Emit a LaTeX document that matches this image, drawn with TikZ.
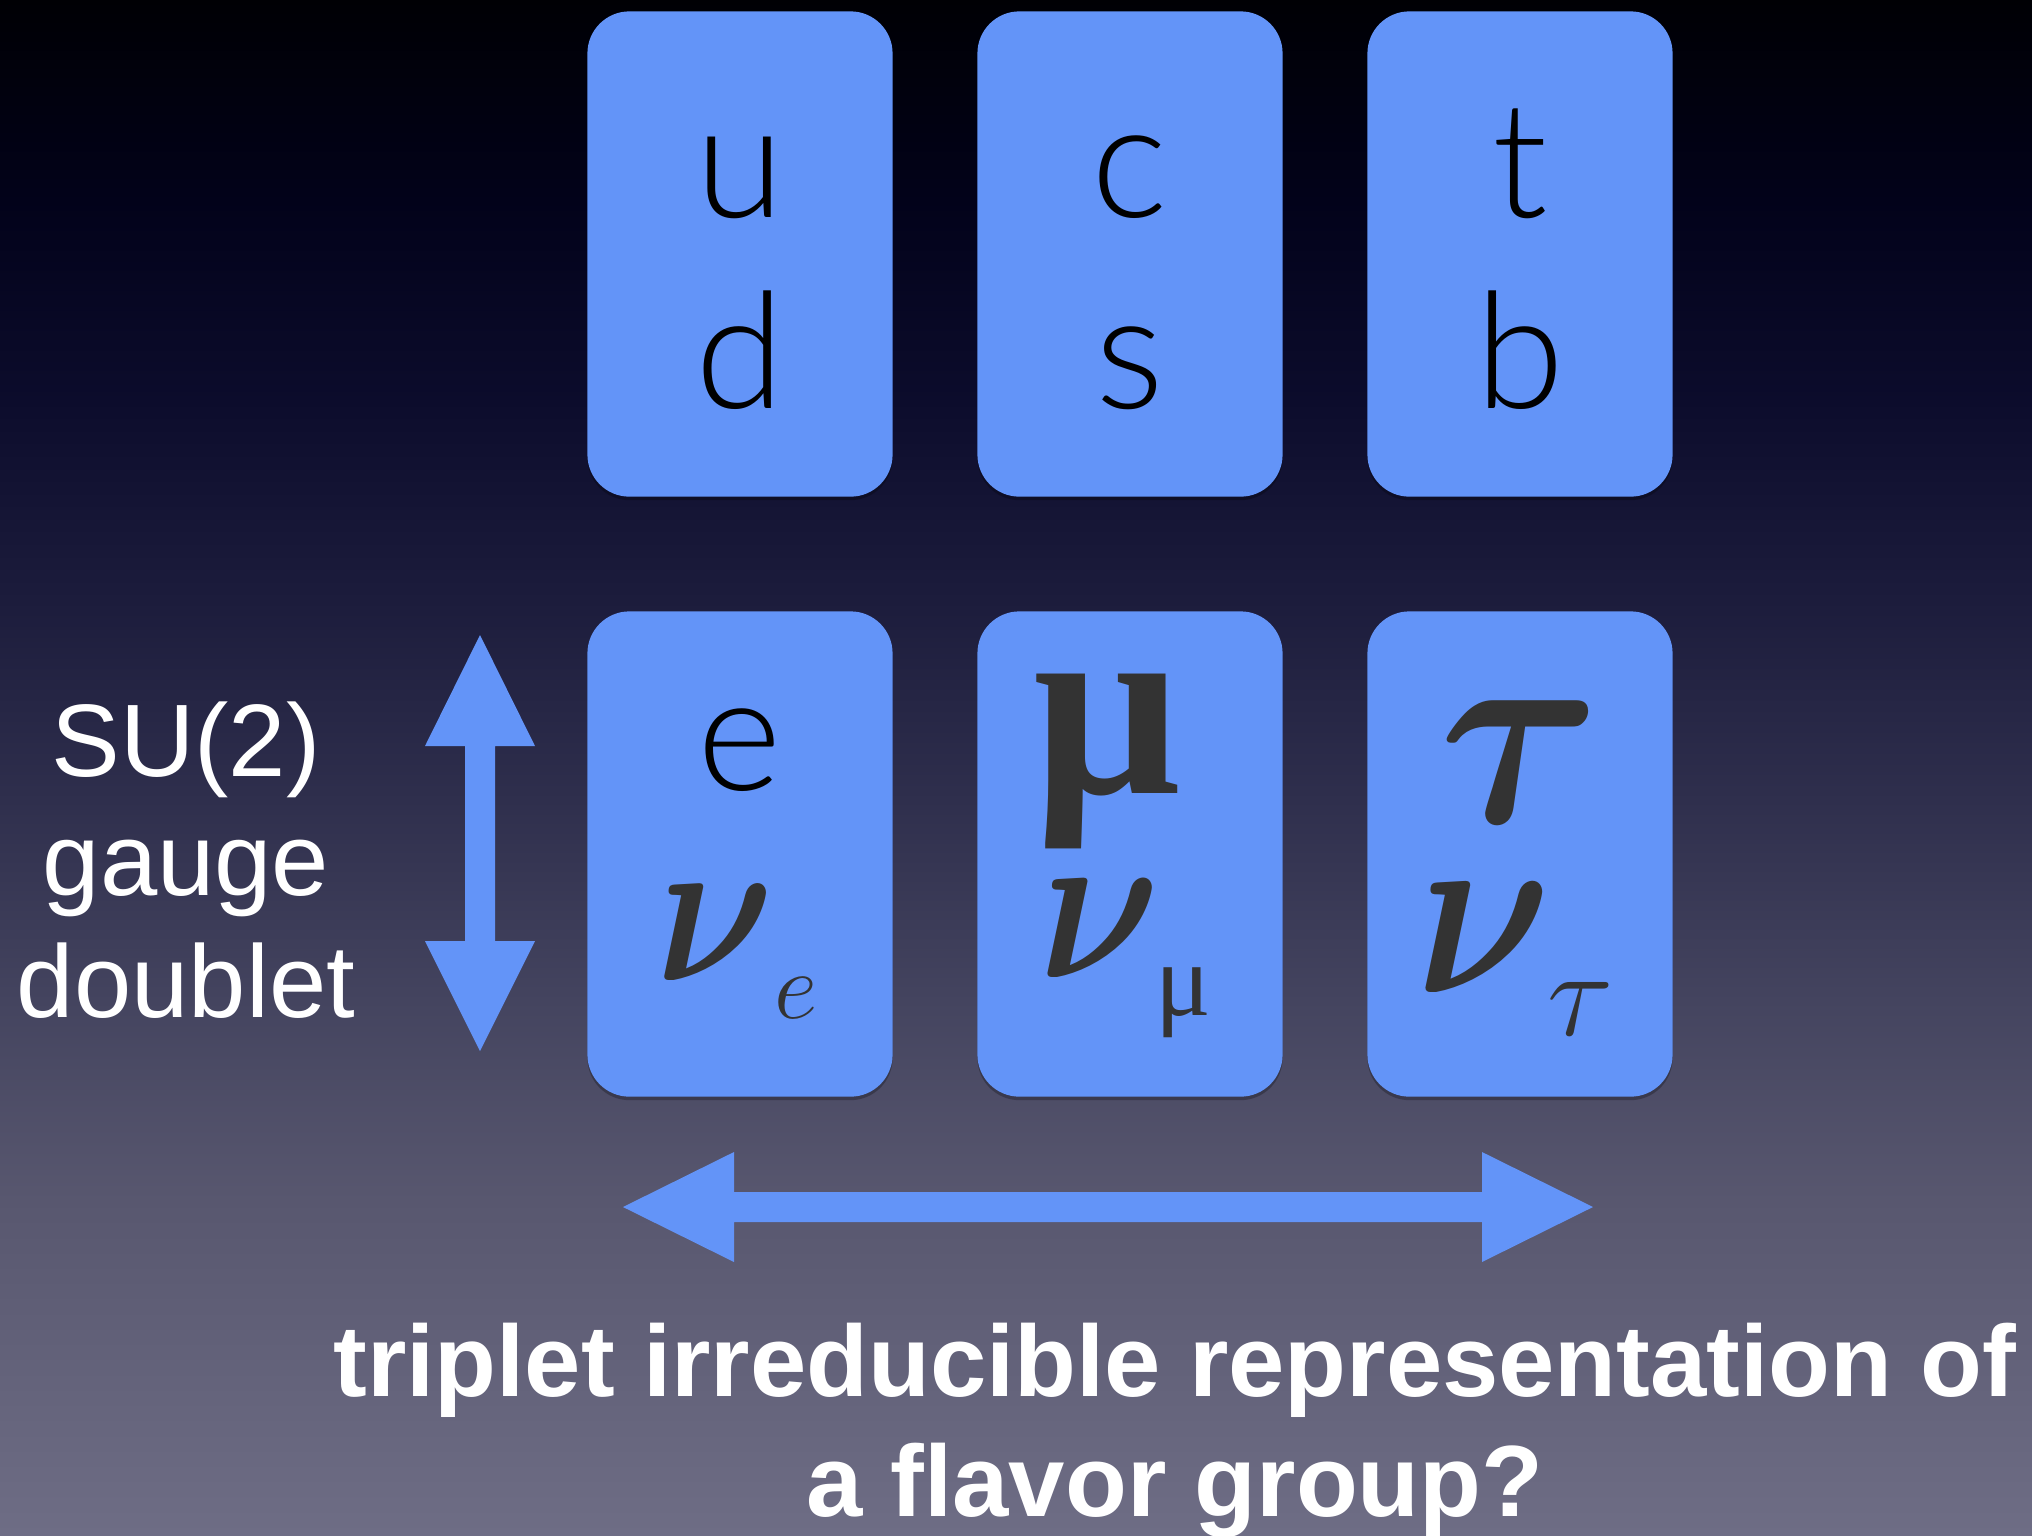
\RequirePackage{fix-cm}
\documentclass[tikz,border=0pt]{standalone}
\usepackage{bm}
\usepackage{fontspec}
\setmainfont{Liberation Sans}
\newfontfamily\grk{Liberation Serif}
\newfontfamily\lightsans{Lato Light}
\usetikzlibrary{shadows}
\definecolor{boxblue}{HTML}{6394F8}
\definecolor{glyph}{HTML}{333333}
\definecolor{bgA}{HTML}{000004}
\definecolor{bgB}{HTML}{02021A}
\definecolor{bgC}{HTML}{0C0C2C}
\definecolor{bgD}{HTML}{1C1C3C}
\definecolor{bgE}{HTML}{2F2F4D}
\definecolor{bgF}{HTML}{44445F}
\definecolor{bgG}{HTML}{58576F}
\definecolor{bgH}{HTML}{6E6D85}
\begin{document}
\begin{tikzpicture}[x=0.01cm,y=-0.01cm,
  card/.style={fill=boxblue, rounded corners=4.2mm, minimum width=3.05cm,
    minimum height=4.85cm, inner sep=0pt, draw=none,
    drop shadow={shadow xshift=0pt, shadow yshift=-1pt, opacity=0.25, fill=black}},
  quark/.style={anchor=base, inner sep=0pt, text=black, font=\lightsans\fontsize{46}{46}\selectfont},
  greek/.style={anchor=base, inner sep=0pt, text=glyph},
  side/.style={anchor=base, inner sep=0pt, text=white, font=\fontsize{29.3}{30}\selectfont},
  caption/.style={anchor=base, inner sep=0pt, text=white, font=\bfseries\fontsize{28.8}{29}\selectfont},
  arrowfill/.style={fill=boxblue}]
\useasboundingbox (0,0) rectangle (2032,1535);
% background gradient
\shade[top color=bgA, bottom color=bgB] (0,0) rectangle (2032,201);
\shade[top color=bgB, bottom color=bgC] (0,200) rectangle (2032,401);
\shade[top color=bgC, bottom color=bgD] (0,400) rectangle (2032,601);
\shade[top color=bgD, bottom color=bgE] (0,600) rectangle (2032,801);
\shade[top color=bgE, bottom color=bgF] (0,800) rectangle (2032,1001);
\shade[top color=bgF, bottom color=bgG] (0,1000) rectangle (2032,1201);
\shade[top color=bgG, bottom color=bgH] (0,1200) rectangle (2032,1535);
% cards
\node[card] (c1) at (740,254) {};
\node[card] (c2) at (1130,254) {};
\node[card] (c3) at (1520,254) {};
\node[card] (l1) at (740,854) {};
\node[card] (l2) at (1130,854) {};
\node[card] (l3) at (1520,854) {};
% quark letters
\node[quark] (u) at (740,217) {u};
\node[quark] (d) at (740,408) {d};
\node[quark] (c) at (1130,217) {c};
\node[quark] (s) at (1130,408) {s};
\node[quark] (t) at (1520,217) {t};
\node[quark] (b) at (1520,408) {b};
% leptons
\node[quark] (e) at (740,790) {e};
\node[greek, font=\fontsize{61}{61}\selectfont] (nue) at (715,980) {\scalebox{0.85}[1]{$\bm{\nu}$}};
\node[greek, font=\fontsize{27}{27}\selectfont] (nuesub) at (796,1018) {$e$};
\node[greek, font=\grk\bfseries\fontsize{74}{74}\selectfont] (mu) at (1107,793) {μ};
\node[greek, font=\fontsize{62.6}{63}\selectfont] (numu) at (1100,977) {\scalebox{0.85}[1]{$\bm{\nu}$}};
\node[greek, font=\grk\fontsize{29.6}{30}\selectfont] (numusub) at (1183,1015) {μ};
\node[greek, font=\fontsize{78}{78}\selectfont] (tau) at (1520,822) {\scalebox{0.9}[1]{$\bm{\tau}$}};
\node[greek, font=\fontsize{70}{70}\selectfont] (nutau) at (1484,992) {\scalebox{0.85}[1]{$\bm{\nu}$}};
\node[greek, font=\fontsize{35}{35}\selectfont] (nutausub) at (1581,1035) {$\tau$};
% vertical double arrow
\coordinate (vtop) at (480,635);
\coordinate (vbot) at (480,1051);
\fill[arrowfill] (vtop) -- (535,746) -- (495,746) -- (495,941) -- (535,941)
  -- (vbot) -- (425,941) -- (465,941) -- (465,746) -- (425,746) -- cycle;
% horizontal double arrow
\coordinate (hleft) at (623,1207);
\coordinate (hright) at (1593,1207);
\fill[arrowfill] (hleft) -- (734,1152) -- (734,1192) -- (1482,1192) -- (1482,1152)
  -- (hright) -- (1482,1262) -- (1482,1222) -- (734,1222) -- (734,1262) -- cycle;
% side label
\node[side] (su2) at (186,776) {SU(2)};
\node[side] (gauge) at (186,895) {gauge};
\node[side] (doublet) at (186,1017) {doublet};
% caption
\node[caption] (cap1) at (1175,1396) {triplet irreducible representation of};
\node[caption] (cap2) at (1175,1516) {a flavor group?};
\end{tikzpicture}
\end{document}
